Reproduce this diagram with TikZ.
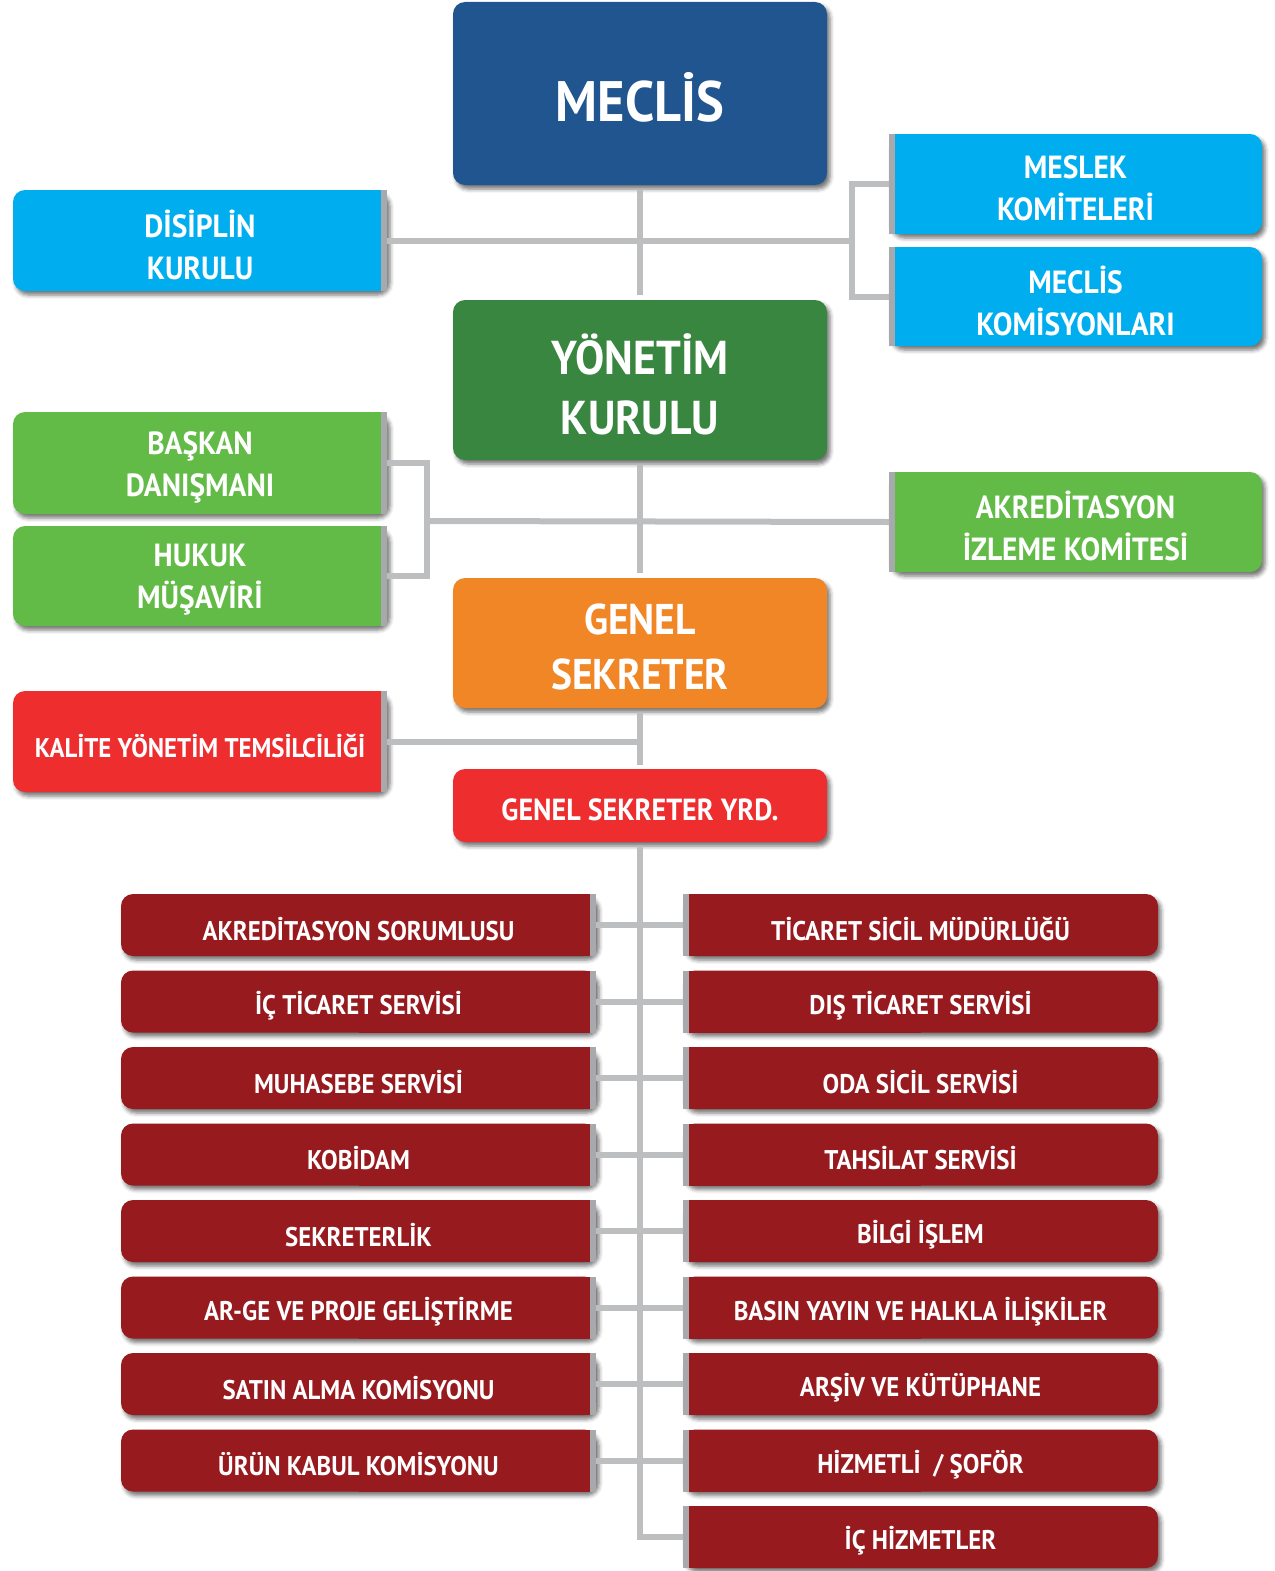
\documentclass[tikz,border=0pt]{standalone}
\usepackage{fontspec}
\newfontfamily\ptn{PT Sans}[FakeStretch=0.92]
\usetikzlibrary{shadows.blur}
\definecolor{cMec}{HTML}{21558F}
\definecolor{cLb}{HTML}{00AEEF}
\definecolor{cDg}{HTML}{38863F}
\definecolor{cLg}{HTML}{62BB46}
\definecolor{cOr}{HTML}{F08626}
\definecolor{cRd}{HTML}{EE2D2F}
\definecolor{cDr}{HTML}{971A1F}
\definecolor{cLine}{HTML}{BCBEC0}
\definecolor{cStrip}{HTML}{A7A9AC}
\tikzset{
  boxn/.style={inner sep=0pt, outer sep=0pt},
  lbl/.style={text=white, align=center, inner sep=0pt},
  shd/.style={blur shadow={shadow xshift=3pt, shadow yshift=-4pt, shadow blur radius=4pt, shadow opacity=55}},
  conn/.style={draw=cLine, line width=6pt},
}
\newcommand\boxA[2]{%
  \fill[#2, rounded corners=12pt, shd] (#1.north west) rectangle (#1.south east);}
\newcommand\boxL[2]{%
  \fill[#2, rounded corners=12pt, shd] (#1.north west) rectangle (#1.south east);
  \fill[#2] (#1.north) rectangle (#1.south east);
  \fill[cStrip] ([xshift=-6pt]#1.north east) rectangle (#1.south east);}
\newcommand\boxR[2]{%
  \fill[#2, rounded corners=12pt, shd] (#1.north west) rectangle (#1.south east);
  \fill[#2] (#1.north west) rectangle (#1.south);
  \fill[cStrip] (#1.north west) rectangle ([xshift=6pt]#1.south west);}
% type, name, x, y, w, h, colour, font, text
\newcommand\mkbox[9]{%
  \node[boxn, minimum width=#5, minimum height=#6] (#2) at (#3,#4) {};
  \csname box#1\endcsname{#2}{#7}
  \node[lbl, font=\ptn\bfseries#8] (#2-t) at ([yshift=-4pt]#2.center) {#9};}
\begin{document}
\begin{tikzpicture}[x=1pt,y=-1pt]
\useasboundingbox (0,0) rectangle (1274,1571);
\mkbox{A}{mec}{640}{93.5}{374}{183}{cMec}{\fontsize{57}{60}\selectfont}{MECLİS}
\mkbox{L}{dis}{200}{240.5}{374}{101}{cLb}{\fontsize{32}{42}\selectfont}{DİSİPLİN\\KURULU}
\mkbox{R}{mes}{1075.5}{184}{373}{100}{cLb}{\fontsize{32}{42}\selectfont}{MESLEK\\KOMİTELERİ}
\mkbox{R}{mko}{1075.5}{296.5}{373}{99}{cLb}{\fontsize{32}{42}\selectfont}{MECLİS\\KOMİSYONLARI}
\mkbox{A}{yon}{640}{380}{374}{160}{cDg}{\fontsize{47.5}{60}\selectfont}{YÖNETİM\\KURULU}
\mkbox{L}{bas}{200}{463}{374}{102}{cLg}{\fontsize{32}{42}\selectfont}{BAŞKAN\\DANIŞMANI}
\mkbox{L}{huk}{200}{576}{374}{100}{cLg}{\fontsize{32}{42}\selectfont}{HUKUK\\MÜŞAVİRİ}
\mkbox{R}{akr}{1075.5}{522}{373}{100}{cLg}{\fontsize{32}{42}\selectfont}{AKREDİTASYON\\İZLEME KOMİTESİ}
\mkbox{A}{gen}{640}{643}{374}{130}{cOr}{\fontsize{43}{55}\selectfont}{GENEL\\SEKRETER}
\mkbox{L}{kal}{200}{741.5}{374}{101}{cRd}{\fontsize{27}{30}\selectfont}{KALİTE YÖNETİM TEMSİLCİLİĞİ}
\mkbox{A}{yrd}{640}{805.5}{374}{73}{cRd}{\fontsize{30.5}{32}\selectfont}{GENEL SEKRETER YRD.}
% rows
\foreach \i/\t in {1/{AKREDİTASYON SORUMLUSU},2/{İÇ TİCARET SERVİSİ},3/{MUHASEBE SERVİSİ},4/{KOBİDAM},5/{SEKRETERLİK},6/{AR-GE VE PROJE GELİŞTİRME},7/{SATIN ALMA KOMİSYONU},8/{ÜRÜN KABUL KOMİSYONU}}{
  \pgfmathsetmacro\yy{925+76.5*(\i-1)}
  \mkbox{L}{l\i}{358.5}{\yy}{475}{62}{cDr}{\fontsize{27}{30}\selectfont}{\t}
}
\foreach \i/\t in {1/{TİCARET SİCİL MÜDÜRLÜĞÜ},2/{DIŞ TİCARET SERVİSİ},3/{ODA SİCİL SERVİSİ},4/{TAHSİLAT SERVİSİ},5/{BİLGİ İŞLEM},6/{BASIN YAYIN VE HALKLA İLİŞKİLER},7/{ARŞİV VE KÜTÜPHANE},8/{HİZMETLİ~~/ ŞOFÖR},9/{İÇ HİZMETLER}}{
  \pgfmathsetmacro\yy{925+76.5*(\i-1)}
  \mkbox{R}{r\i}{920.5}{\yy}{475}{62}{cDr}{\fontsize{27}{30}\selectfont}{\t}
}
% connectors
\coordinate (b1) at (852,240.5);
\coordinate (b2) at (427,521);
\draw[conn, shorten <=5pt, shorten >=5pt] (mec.south) -- (yon.north);
\draw[conn] (dis.east) -- (b1);
\draw[conn] (mes.west) -| (b1) |- (mko.west);
\draw[conn, shorten <=5pt, shorten >=5pt] (yon.south) -- (gen.north);
\draw[conn] (bas.east) -| (b2) |- (huk.east);
\draw[conn] (b2) -- (akr.west);
\draw[conn, shorten <=4pt, shorten >=4pt] (gen.south) -- (yrd.north);
\draw[conn] (kal.east) -- (kal.east -| gen.south);
\draw[conn, shorten <=4pt] (yrd.south) |- (r9.west);
\foreach \i in {1,...,8}{\draw[conn] (l\i.east) -- (r\i.west);}
\end{tikzpicture}
\end{document}
